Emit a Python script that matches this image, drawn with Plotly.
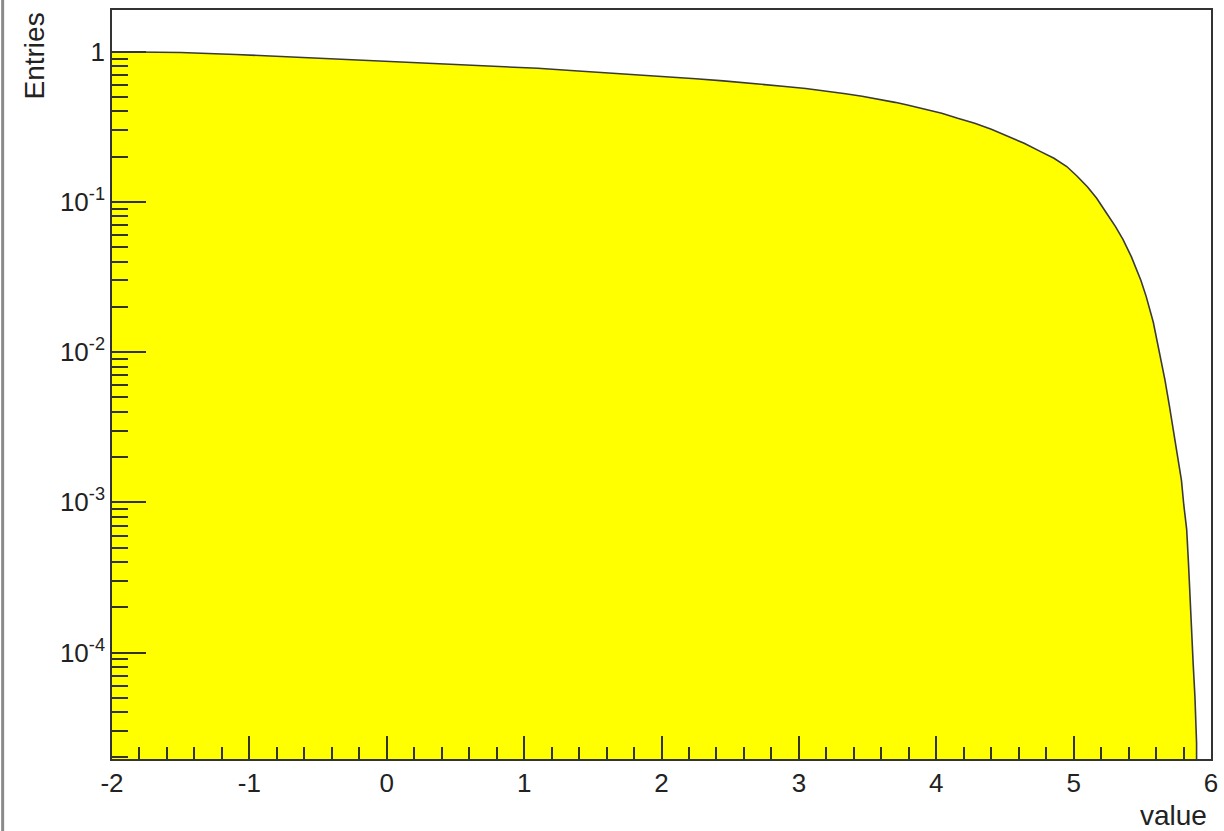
import plotly.graph_objects as go

# Curve (value -> Entries)
x_points = [-2.0, -1.5, -1.1, -0.7, -0.34, 0.0, 0.29, 0.57, 0.84, 1.10, 1.34, 1.60,
            1.84, 2.06, 2.25, 2.45, 2.62, 2.76, 2.90, 3.05, 3.22, 3.34, 3.46, 3.61,
            3.70, 3.79, 3.917, 4.04, 4.156, 4.28, 4.401, 4.52, 4.64, 4.76, 4.857,
            4.95, 5.024, 5.10, 5.168, 5.24, 5.305, 5.36, 5.42, 5.49, 5.528, 5.58,
            5.629, 5.665, 5.696, 5.725, 5.754, 5.785, 5.802, 5.823, 5.836, 5.846,
            5.870, 5.883, 5.895, 5.895]
entries = [1.0, 0.988, 0.958, 0.922, 0.884, 0.862, 0.838, 0.815, 0.795, 0.775, 0.749, 0.724,
           0.701, 0.681, 0.661, 0.639, 0.621, 0.605, 0.587, 0.569, 0.545, 0.525, 0.505, 0.478,
           0.460, 0.442, 0.4156, 0.389, 0.360, 0.334, 0.3045, 0.272, 0.2456, 0.216, 0.1952,
           0.172, 0.1488, 0.126, 0.1057, 0.084, 0.0684, 0.056, 0.0432, 0.030, 0.0235, 0.0158,
           0.00958, 0.0065, 0.00445, 0.0030, 0.00207, 0.0014, 0.00096, 0.00066, 0.000395, 0.00024,
           8.5e-5, 5.1e-5, 2.5e-5, 1e-8]

x_tickvals = [-2, -1, 0, 1, 2, 3, 4, 5, 6]
x_ticktext = ["-2", "-1", "0", "1", "2", "3", "4", "5", "6"]
y_tickvals = [1e-4, 1e-3, 1e-2, 1e-1, 1]
y_ticktext = ["10<sup>-4</sup>", "10<sup>-3</sup>", "10<sup>-2</sup>", "10<sup>-1</sup>", "1"]
y_minor = [m * 10.0 ** e for e in range(-5, 1) for m in range(2, 10)]

FONT = "Liberation Sans, Arial, Helvetica, sans-serif"
AX = "#333333"
TXT = "#222222"

fig = go.Figure()
fig.add_trace(go.Scatter(
    x=x_points, y=entries, mode="lines", line=dict(color="#3a3a3a", width=1.6),
    fill="tozeroy", fillcolor="#ffff00", showlegend=False, hoverinfo="skip"))

fig.update_layout(
    width=1224, height=831, autosize=False,
    margin=dict(l=112, r=6, t=10, b=72),
    paper_bgcolor="white", plot_bgcolor="white",
    font=dict(family=FONT, size=26, color=TXT),
    showlegend=False,
    xaxis=dict(
        range=[-2, 6], tickmode="array", tickvals=x_tickvals, ticktext=x_ticktext,
        ticks="inside", ticklen=23, tickwidth=1.6, tickcolor=AX,
        showline=True, linecolor=AX, linewidth=1.6, mirror=True,
        showgrid=False, zeroline=False,
        tickfont=dict(family=FONT, size=26, color=TXT),
        minor=dict(ticks="inside", ticklen=12, tickwidth=1.6, tickcolor=AX,
                   tick0=-2, dtick=0.2, showgrid=False),
    ),
    yaxis=dict(
        type="log", range=[-4.709, 0.2775], tickmode="array",
        tickvals=y_tickvals, ticktext=y_ticktext,
        ticks="inside", ticklen=34, tickwidth=1.6, tickcolor=AX,
        showline=True, linecolor=AX, linewidth=1.6, mirror=True,
        showgrid=False, zeroline=False,
        tickfont=dict(family=FONT, size=26, color=TXT),
        minor=dict(ticks="inside", ticklen=16, tickwidth=1.6, tickcolor=AX,
                   tickmode="array", tickvals=y_minor, showgrid=False),
    ),
    annotations=[
        dict(text="Entries", textangle=-90, xref="paper", yref="paper",
             x=0, y=1, xanchor="center", yanchor="top", xshift=-78, yshift=-1,
             showarrow=False, font=dict(family=FONT, size=28, color=TXT)),
        dict(text="value", xref="paper", yref="paper", x=1, y=0,
             xanchor="right", yanchor="top", xshift=-2, yshift=-39,
             showarrow=False, font=dict(family=FONT, size=28, color=TXT)),
    ],
    shapes=[
        dict(type="line", xref="paper", yref="paper", x0=-0.0995, x1=-0.0995,
             y0=-0.2, y1=1.2, line=dict(color="#8a8a8a", width=3)),
    ],
)

fig.write_html("out.html")
